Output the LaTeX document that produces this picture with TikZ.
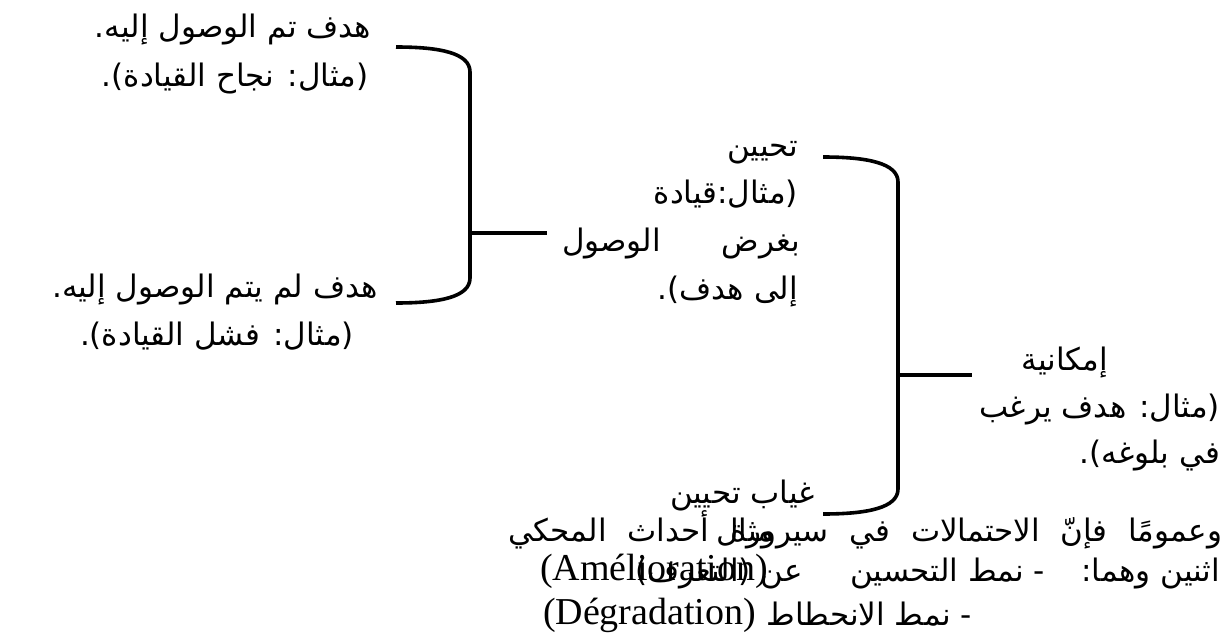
\documentclass[tikz,border=0pt]{standalone}
\usepackage{fontspec}
\setmainfont{Liberation Serif}
\newfontfamily\arabicfont[Script=Arabic]{DejaVu Sans}
\TeXXeTstate=1
\newcommand{\ar}[1]{\beginR #1\endR}
\begin{document}
\begin{tikzpicture}[x=1pt,y=-1pt,
  artext/.style={font=\arabicfont\fontsize{31}{47}\selectfont, inner sep=0pt, outer sep=0pt},
  latext/.style={font=\fontsize{38}{42}\selectfont, inner sep=0pt, outer sep=0pt},
  brace/.style={line width=3.6pt, line cap=butt, line join=round}]
\useasboundingbox (0,0) rectangle (1227,637);

% left column: the two outcomes
\node[artext, anchor=base] (a1) at (233,37) {\ar{هدف تم الوصول إليه.}};
\node[artext, anchor=base] (a2) at (235,86) {\ar{(مثال: نجاح القيادة).}};
\node[artext, anchor=base] (b1) at (215,297) {\ar{هدف لم يتم الوصول إليه.}};
\node[artext, anchor=base] (b2) at (217,345) {\ar{(مثال: فشل القيادة).}};

% middle column
\node[artext, anchor=base east] (c1) at (798,156) {\ar{تحيين}};
\node[artext, anchor=base east] (c2) at (798,203) {\ar{(مثال:قيادة}};
\node[artext, anchor=base east] (c3) at (800,251) {\hbox to 238pt{\beginR بغرض\hfill الوصول\endR}};
\node[artext, anchor=base east] (c4) at (798,299) {\ar{إلى هدف).}};
\node[artext, anchor=base east] (g1) at (815,503) {\ar{غياب تحيين}};

% right column
\node[artext, anchor=base] (d1) at (1065,370) {\ar{إمكانية}};
\node[artext, anchor=base east] (d2) at (1220,417) {\ar{(مثال: هدف يرغب}};
\node[artext, anchor=base east] (d3) at (1220,463) {\ar{في بلوغه).}};

% closing paragraph, with its overprinted fragments
\node[artext, anchor=base east] (p1) at (1222,541) {\hbox to 714pt{\beginR وعمومًا فإنّ الاحتمالات في سيرورة أحداث المحكي\endR}};
\node[artext, anchor=base] (p1b) at (745,541) {\ar{مثال}};
\node[artext, anchor=base east] (p2) at (1220,581) {\ar{اثنين وهما:}};
\node[artext, anchor=base east] (p3) at (1045,581) {\ar{- نمط التحسين}};
\node[latext, anchor=base west] (p4) at (540,580) {(Amélioration)};
\node[artext, anchor=base east] (p4b) at (803,581) {\ar{عن (التعرف)}};
\node[artext, anchor=base east] (p5) at (972,625) {\ar{- نمط الانحطاط}};
\node[latext, anchor=base west] (p6) at (543,624) {(Dégradation)};

% brackets
\coordinate (lt) at (396,47);
\coordinate (lb) at (396,303);
\coordinate (lm) at (470,233);
\coordinate (le) at (547,233);
\draw[brace] (lt) .. controls (440,47) and (470,53) .. (470,72) -- (470,278)
  .. controls (470,297) and (440,303) .. (lb);
\draw[brace] (lm) -- (le);

\coordinate (rt) at (823,157);
\coordinate (rb) at (823,514);
\coordinate (rm) at (898,375);
\coordinate (re) at (972,375);
\draw[brace] (rt) .. controls (867,157) and (898,163) .. (898,182) -- (898,489)
  .. controls (898,508) and (867,514) .. (rb);
\draw[brace] (rm) -- (re);
\end{tikzpicture}
\end{document}
